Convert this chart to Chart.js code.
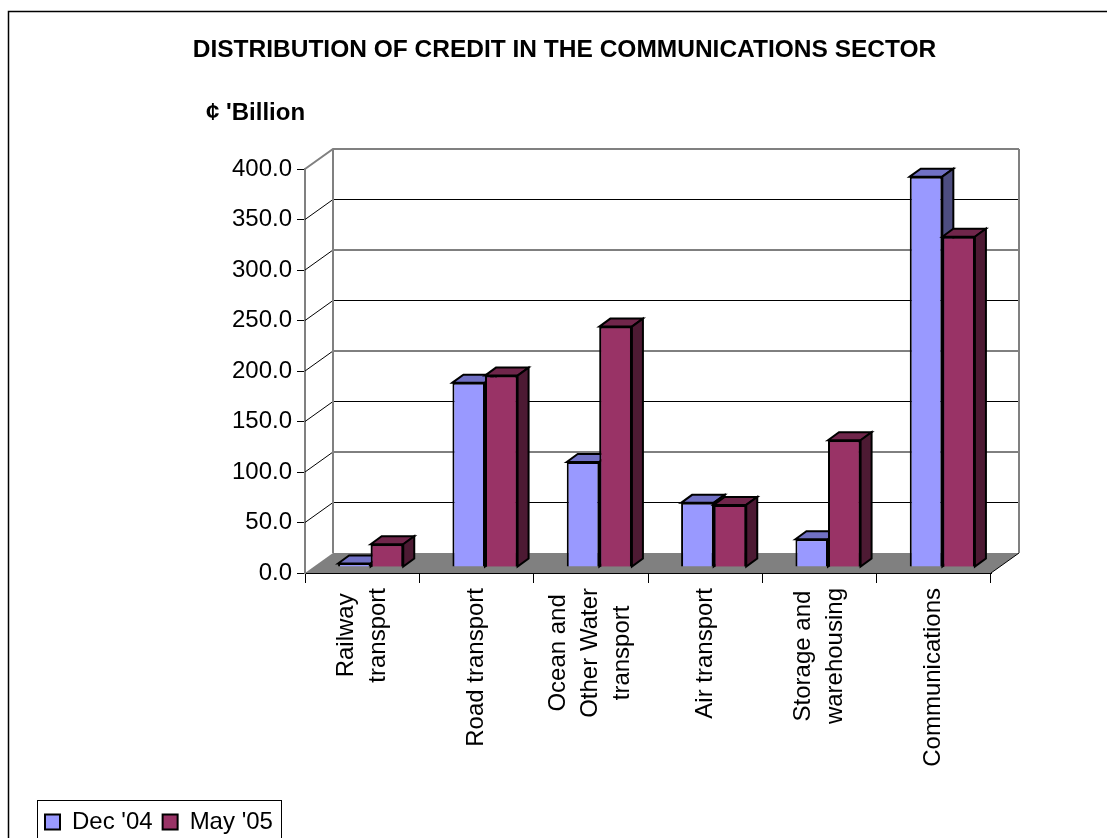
<!DOCTYPE html>
<html>
<head>
<meta charset="utf-8">
<script src="https://cdn.jsdelivr.net/npm/chart.js@4.4.1/dist/chart.umd.min.js"></script>
<style>
html,body{margin:0;padding:0;background:#fff;}
canvas{display:block;}
</style>
</head>
<body>
<canvas id="c" width="1107" height="838"></canvas>
<script>
// ---- data ----
const categories = [
  ["Railway", "transport"],
  "Road transport",
  ["Ocean and", "Other Water", "transport"],
  "Air transport",
  ["Storage and", "warehousing"],
  "Communications"
];
const seriesNames = ["Dec '04", "May '05"];
const dec04 = [3.5, 182.5, 104.0, 63.5, 27.5, 386.5];
const may05 = [22.5, 189.5, 238.0, 61.5, 125.5, 327.0];
const yMin = 0, yMax = 400, yStep = 50;
const chartTitle = "DISTRIBUTION OF CREDIT IN THE COMMUNICATIONS SECTOR";
const unitLabel = "\u00A2 'Billion";

// ---- styling ----
const FONT = "'Liberation Sans', Arial, Helvetica, sans-serif";
const WALL = { dx: 28, dy: -20 };
const BAR = { dx: 8.5, dy: -6, depthX: 11, depthY: -8 };
const frontColors = ['#9999FF', '#993366'];
const faceColors = [
  { top: '#7070C4', side: '#4D4D80' },
  { top: '#70264B', side: '#4D1A33' }
];
const X_LABEL = { top: 588, lineGap: 32, size: 24 };

function drawFaces(ctx, el, col) {
  const p = el.getProps(['x', 'y', 'base', 'width'], true);
  const l = p.x - p.width / 2, r = p.x + p.width / 2;
  const top = Math.min(p.y, p.base), bot = Math.max(p.y, p.base);
  const dX = BAR.depthX, dY = BAR.depthY;
  ctx.save();
  ctx.lineWidth = 2;
  ctx.strokeStyle = '#000';
  ctx.lineJoin = 'miter';
  ctx.fillStyle = col.top;
  ctx.beginPath();
  ctx.moveTo(l, top); ctx.lineTo(l + dX, top + dY); ctx.lineTo(r + dX, top + dY); ctx.lineTo(r, top);
  ctx.closePath(); ctx.fill(); ctx.stroke();
  ctx.fillStyle = col.side;
  ctx.beginPath();
  ctx.moveTo(r, top); ctx.lineTo(r + dX, top + dY); ctx.lineTo(r + dX, bot + dY); ctx.lineTo(r, bot);
  ctx.closePath(); ctx.fill(); ctx.stroke();
  ctx.restore();
}

const threeD = {
  id: 'threeD',
  beforeDatasetsDraw(chart) {
    const { ctx, chartArea: a, scales: { y } } = chart;
    ctx.save();
    // floor
    ctx.fillStyle = '#808080';
    ctx.beginPath();
    ctx.moveTo(a.left, a.bottom);
    ctx.lineTo(a.right, a.bottom);
    ctx.lineTo(a.right + WALL.dx, a.bottom + WALL.dy);
    ctx.lineTo(a.left + WALL.dx, a.bottom + WALL.dy);
    ctx.closePath();
    ctx.fill();
    ctx.strokeStyle = '#000';
    ctx.lineWidth = 1;
    ctx.beginPath();
    ctx.moveTo(a.right, a.bottom);
    ctx.lineTo(a.right + WALL.dx, a.bottom + WALL.dy);
    ctx.stroke();
    // gridlines on side wall and back wall
    y.ticks.forEach(t => {
      if (t.value === yMin) return;
      const py = y.getPixelForValue(t.value);
      const isTop = t.value === yMax;
      ctx.strokeStyle = isTop ? '#808080' : '#000';
      ctx.lineWidth = isTop ? 2 : 1;
      ctx.beginPath();
      ctx.moveTo(a.left, py);
      ctx.lineTo(a.left + WALL.dx, py + WALL.dy);
      ctx.lineTo(a.right + WALL.dx, py + WALL.dy);
      ctx.stroke();
    });
    // back wall edges
    ctx.strokeStyle = '#808080';
    ctx.lineWidth = 2;
    ctx.beginPath();
    ctx.moveTo(a.left + WALL.dx, a.top + WALL.dy);
    ctx.lineTo(a.left + WALL.dx, a.bottom + WALL.dy);
    ctx.moveTo(a.right + WALL.dx, a.top + WALL.dy);
    ctx.lineTo(a.right + WALL.dx, a.bottom + WALL.dy);
    ctx.stroke();
    ctx.restore();
    // bars sit a little into the depth
    ctx.save();
    ctx.translate(BAR.dx, BAR.dy);
  },
  afterDatasetsDraw(chart) {
    const ctx = chart.ctx;
    const m0 = chart.getDatasetMeta(0), m1 = chart.getDatasetMeta(1);
    for (let i = 0; i < m0.data.length; i++) {
      drawFaces(ctx, m0.data[i], faceColors[0]);
      m1.data[i].draw(ctx, chart.chartArea);
      drawFaces(ctx, m1.data[i], faceColors[1]);
    }
    ctx.restore();
  },
  afterDraw(chart) {
    const ctx = chart.ctx;
    const xs = chart.scales.x;
    ctx.save();
    ctx.fillStyle = '#000';
    // category labels, rotated, lines centred on each other
    ctx.font = X_LABEL.size + 'px ' + FONT;
    chart.data.labels.forEach((lab, i) => {
      const lines = Array.isArray(lab) ? lab : [lab];
      const px = xs.getPixelForTick(i);
      const maxW = Math.max(...lines.map(s => ctx.measureText(s).width));
      const cy = X_LABEL.top + maxW / 2;
      lines.forEach((s, j) => {
        const off = (j - (lines.length - 1) / 2) * X_LABEL.lineGap;
        ctx.save();
        ctx.translate(px + off, cy);
        ctx.rotate(-Math.PI / 2);
        ctx.textAlign = 'center';
        ctx.textBaseline = 'middle';
        ctx.fillText(s, 0, 0);
        ctx.restore();
      });
    });
    ctx.textBaseline = 'alphabetic';
    ctx.font = 'bold 24.5px ' + FONT;
    ctx.textAlign = 'center';
    ctx.fillText(chartTitle, 564.5, 57);
    ctx.font = 'bold 24px ' + FONT;
    ctx.textAlign = 'left';
    ctx.fillText(unitLabel, 206, 120);
    // legend frame
    ctx.strokeStyle = '#000';
    ctx.lineWidth = 1;
    ctx.strokeRect(37.5, 800.5, 244, 60);
    // outer frame
    ctx.lineWidth = 1.5;
    ctx.strokeStyle = '#000';
    ctx.strokeRect(8.5, 11.5, 1200, 1000);
    ctx.restore();
  }
};

new Chart(document.getElementById('c'), {
  type: 'bar',
  data: {
    labels: categories,
    datasets: [
      { label: seriesNames[0], data: dec04, backgroundColor: frontColors[0], borderColor: '#000', borderWidth: 2,
        categoryPercentage: 0.57, barPercentage: 1.0 },
      { label: seriesNames[1], data: may05, backgroundColor: frontColors[1], borderColor: '#000', borderWidth: 2,
        categoryPercentage: 0.57, barPercentage: 1.0 }
    ]
  },
  plugins: [threeD],
  options: {
    responsive: false,
    animation: false,
    devicePixelRatio: 1,
    layout: { padding: { left: 35, right: 116, top: 169, bottom: -6 } },
    plugins: {
      title: { display: false },
      tooltip: { enabled: false },
      legend: {
        position: 'bottom',
        align: 'start',
        labels: {
          boxWidth: 15, boxHeight: 15, padding: 10, color: '#000',
          font: { family: FONT, size: 24 }
        }
      }
    },
    scales: {
      x: {
        grid: { offset: true, drawOnChartArea: false, drawTicks: true, tickLength: 10, color: '#000', lineWidth: 1 },
        border: { display: true, color: '#000', width: 2 },
        ticks: { display: false, autoSkip: false },
        afterFit(s) {
          const lh = (s.chart.legend && s.chart.legend.height) ? s.chart.legend.height : 48.8;
          s.height = 838 + 6 - lh - 573;
        }
      },
      y: {
        min: yMin, max: yMax,
        ticks: {
          stepSize: yStep, padding: 5, color: '#000',
          font: { family: FONT, size: 24 },
          callback: v => Number(v).toFixed(1)
        },
        grid: { drawOnChartArea: false, drawTicks: true, tickLength: 8, color: '#000' },
        border: { display: true, color: '#808080', width: 2 },
        afterFit(s) { s.width = 270; }
      }
    }
  }
});
</script>
</body>
</html>
